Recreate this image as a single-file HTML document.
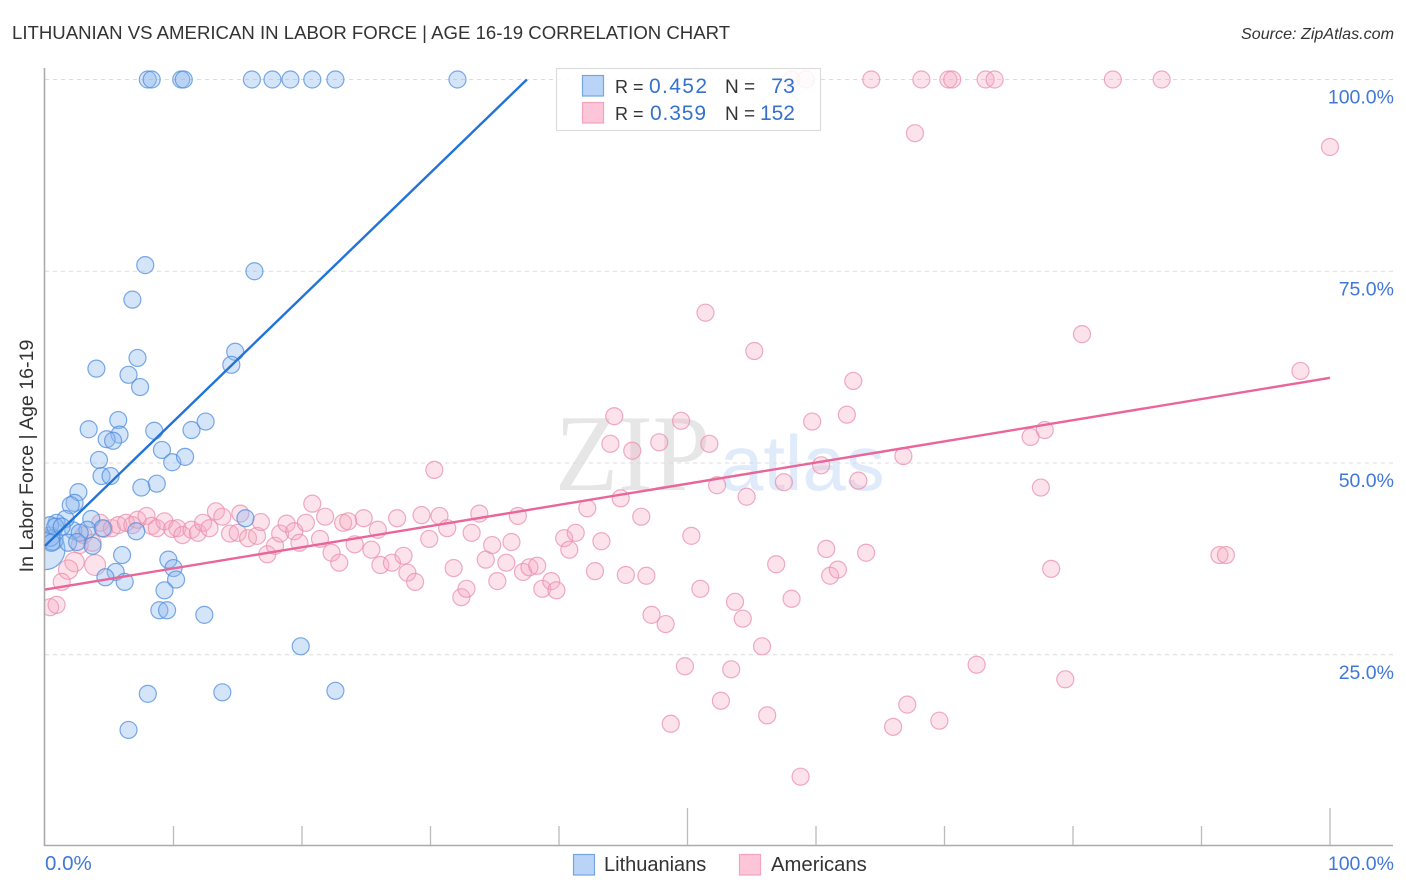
<!DOCTYPE html>
<html>
<head>
<meta charset="utf-8">
<title>Lithuanian vs American in Labor Force correlation chart</title>
<style>
html,body{margin:0;padding:0;background:#fff;width:1406px;height:892px;overflow:hidden}
svg{display:block;font-family:"Liberation Sans",sans-serif}
</style>
</head>
<body>
<svg id="chart" width="1406" height="892" viewBox="0 0 1406 892" xmlns="http://www.w3.org/2000/svg">
  <defs>
    <clipPath id="plot-clip"><rect x="45" y="60" width="1350" height="785"/></clipPath>
  </defs>
  <rect x="0" y="0" width="1406" height="892" fill="#ffffff"/>
  <text x="12" y="39" font-size="18.6" fill="#333333">LITHUANIAN VS AMERICAN IN LABOR FORCE | AGE 16-19 CORRELATION CHART</text>
  <text x="1394" y="39" text-anchor="end" font-size="16.1" font-style="italic" fill="#333333">Source: ZipAtlas.com</text>
  <g>
    <text x="555" y="490" font-family="'Liberation Serif',serif" font-size="109" textLength="155" lengthAdjust="spacingAndGlyphs" fill="#e6e6e6">ZIP</text>
    <text x="720" y="490" font-size="78" fill="#dfeafa">atlas</text>
  </g>
  <g id="grid"></g>
  <g id="axes"></g>
  <g id="points" clip-path="url(#plot-clip)"></g>
  <g id="trends"></g>
  <g>
    <rect x="556.5" y="68.5" width="264" height="62" fill="#ffffff" fill-opacity="0.86" stroke="#dcdcdc" stroke-width="1.2"/>
    <rect x="582.5" y="75.5" width="21" height="20.5" fill="#b9d4f7" stroke="#76a5e2" stroke-width="1.2"/>
    <rect x="582.5" y="102.5" width="21" height="20.5" fill="#fcc6d8" stroke="#f2a3bd" stroke-width="1.2"/>
    <text x="615" y="93" font-size="18" fill="#333">R =</text>
    <text x="649" y="93" font-size="21" textLength="58" fill="#3571cf">0.452</text>
    <text x="725" y="93" font-size="19" fill="#333">N =</text>
    <text x="795" y="93" text-anchor="end" font-size="21.5" fill="#3571cf">73</text>
    <text x="615" y="120" font-size="18" fill="#333">R =</text>
    <text x="650" y="120" font-size="21" textLength="56" fill="#3571cf">0.359</text>
    <text x="725" y="120" font-size="19" fill="#333">N =</text>
    <text x="795" y="120" text-anchor="end" font-size="21" fill="#3571cf">152</text>
  </g>
  <g>
    <rect x="573.5" y="854.5" width="21" height="20.5" fill="#b9d4f7" stroke="#76a5e2" stroke-width="1.2"/>
    <text x="604" y="871" font-size="20" fill="#333">Lithuanians</text>
    <rect x="739.5" y="854.5" width="21" height="20.5" fill="#fcc6d8" stroke="#f2a3bd" stroke-width="1.2"/>
    <text x="771" y="871" font-size="20.3" fill="#333">Americans</text>
  </g>
</svg>
<script>
const yTickValues = [25, 50, 75, 100];
const yTickLabels = ["25.0%", "50.0%", "75.0%", "100.0%"];
const xTickValues = [0, 10, 20, 30, 40, 50, 60, 70, 80, 90, 100];
const xEndValues = [0, 100];
const xEndLabels = ["0.0%", "100.0%"];

const lithuanianX = [0.0,0.6,0.4,2.2,0.5,8.0,8.3,10.6,10.8,16.1,17.7,19.1,20.8,22.6,32.1,7.8,16.3,6.8,7.2,14.8,14.5,4.0,6.5,7.4,3.4,5.7,5.8,4.8,5.3,8.5,11.4,12.5,9.1,9.9,10.9,4.2,4.4,5.1,8.7,7.5,2.6,2.3,2.0,15.6,3.6,1.6,0.9,0.4,0.8,1.3,3.3,2.7,4.5,7.1,1.8,2.5,3.7,6.0,9.6,10.0,5.5,10.2,4.7,6.2,9.3,8.9,9.5,12.4,19.9,8.0,13.8,22.6,6.5];
const lithuanianY = [38.7,40.0,40.4,41.2,39.6,100,100,100,100,100,100,100,100,100,100,75.8,75.0,71.3,63.7,64.5,62.8,62.3,61.5,59.9,54.4,55.6,53.7,53.1,52.9,54.2,54.3,55.4,51.7,50.1,50.8,50.4,48.3,48.3,47.3,46.8,46.2,44.8,44.5,42.8,42.7,42.7,42.2,41.9,41.7,41.7,41.3,40.9,41.5,41.1,39.6,39.7,39.2,38.0,37.4,36.3,35.8,34.8,35.1,34.5,33.4,30.8,30.8,30.2,26.1,19.9,20.1,20.3,15.2];
const lithuanianWeight = [5.5,1.5,1.3];

const americanX = [3.9,2.3,1.8,0.4,0.9,1.3,2.7,3.0,3.7,4.3,4.6,5.2,5.7,6.3,6.8,7.2,7.9,8.3,8.7,9.3,9.9,10.3,10.7,11.4,11.9,12.3,12.8,13.3,13.8,14.4,15.2,15.0,15.8,16.5,16.8,17.3,17.9,18.3,18.8,19.4,19.8,20.3,20.8,21.4,21.8,22.3,22.9,23.2,23.6,24.8,25.9,24.1,25.4,26.1,27.0,27.9,28.2,28.8,27.4,29.3,29.9,30.7,31.3,30.3,31.8,32.4,32.8,33.2,33.8,34.3,34.8,35.2,35.9,36.3,36.8,37.2,37.7,38.3,38.7,39.4,39.8,40.4,40.8,41.3,42.2,42.8,43.3,44.0,44.3,45.7,44.8,45.2,46.4,46.8,47.2,47.8,48.3,49.5,49.8,48.7,50.3,51.0,51.4,51.7,52.3,52.6,53.4,53.7,54.3,54.6,55.2,55.8,56.2,56.9,57.5,58.1,58.8,59.7,60.4,60.8,61.1,61.7,62.4,62.9,63.3,63.9,66.0,66.8,67.1,67.7,69.6,72.5,76.7,77.5,77.8,78.3,79.4,80.7,91.4,91.9,97.7,100,58.1,59.2,64.3,68.2,70.3,70.6,73.2,73.9,83.1,86.9];
const americanY = [36.7,37.1,36.1,31.2,31.5,34.5,39.3,40.6,39.6,42.2,41.4,41.5,41.9,42.2,41.9,42.6,43.1,41.8,41.5,42.4,41.4,41.5,40.6,41.3,40.9,42.2,41.5,43.7,43.0,40.8,43.4,40.9,40.2,40.5,42.3,38.1,39.2,40.8,42.1,41.1,39.6,42.2,44.7,40.1,43.0,38.3,37.0,42.2,42.4,42.8,41.3,39.4,38.7,36.7,37.0,37.9,35.7,34.5,42.8,43.2,40.1,43.1,41.5,49.1,36.3,32.5,33.6,40.9,43.4,37.4,39.3,34.6,37.0,39.7,43.1,35.8,36.4,36.6,33.6,34.6,33.4,40.2,38.7,40.9,44.1,35.9,39.8,52.5,56.1,51.6,45.4,35.4,43.0,35.3,30.2,52.7,29.0,55.5,23.5,16.0,40.5,33.6,69.6,52.5,47.1,19.0,23.1,31.9,29.7,45.6,64.6,26.1,17.1,36.8,47.5,32.3,9.1,55.4,49.7,38.8,35.3,36.1,56.3,60.7,47.7,38.3,15.6,50.9,18.5,93.0,16.4,23.7,53.4,46.8,54.3,36.2,21.8,66.8,38.0,38.0,62.0,91.2,100,100,100,100,100,100,100,100,100,100];
const americanWeight = [1.5,1.3,1.3];

const lithuanianTrendX = [0, 37.5];
const lithuanianTrendY = [39.2, 100];
const americanTrendX = [0, 100];
const americanTrendY = [33.5, 61.1];

const NS = "http://www.w3.org/2000/svg";
function xScale(v) { return 45 + v * 12.85; }
function yScale(v) { return 846.5 - v * 7.67; }
function make(tag, attrs, parent) {
  const el = document.createElementNS(NS, tag);
  for (const k in attrs) el.setAttribute(k, attrs[k]);
  parent.appendChild(el);
  return el;
}
const gridG = document.getElementById("grid");
const axesG = document.getElementById("axes");
const pointsG = document.getElementById("points");
const trendsG = document.getElementById("trends");

yTickValues.forEach(function (v, i) {
  const line = make("line", {x1: 45, x2: 1393, y1: yScale(v), y2: yScale(v), stroke: "#dcdcdc", "stroke-width": 1, "stroke-dasharray": "4 4"}, gridG);
  
  
  const label = make("text", {x: 1394, y: yScale(v) + 24, "text-anchor": "end", "font-size": 19.5, fill: "#3f78d6"}, axesG);
  
  
  label.textContent = yTickLabels[i];
});

const yAxis = make("line", {x1: 44.5, x2: 44.5, y1: 68, y2: 846, stroke: "#aaaaaa", "stroke-width": 1.6}, axesG);


const xAxis = make("line", {x1: 44, x2: 1393, y1: 845.5, y2: 845.5, stroke: "#aaaaaa", "stroke-width": 1.4}, axesG);



xTickValues.forEach(function (v) {
  if (v === 0) return;
  const top = (v === 50 || v === 100) ? 808 : 826;
  const tick = make("line", {x1: xScale(v), x2: xScale(v), y1: top, y2: 845, stroke: "#bbbbbb", "stroke-width": 1.3}, axesG);
  
  
});

xEndValues.forEach(function (v, i) {
  const label = make("text", {x: i === 0 ? xScale(v) : 1394, y: 870, "text-anchor": i === 0 ? "start" : "end", "font-size": i === 0 ? 20.5 : 19.5, fill: "#3f78d6"}, axesG);
  
  
  label.textContent = xEndLabels[i];
});

const yTitle = make("text", {x: 0, y: 0, transform: "translate(33,456) rotate(-90)", "text-anchor": "middle", "font-size": 19.6, fill: "#333333"}, axesG);


yTitle.textContent = "In Labor Force | Age 16-19";

americanX.forEach(function (x, i) {
  const w = americanWeight[i] || 1;
  const c = make("circle", {cx: xScale(x), cy: yScale(americanY[i]), r: 8.5 * Math.sqrt(w), fill: "#f7a8c2", "fill-opacity": 0.32, stroke: "#ea8fae", "stroke-opacity": 0.75, "stroke-width": 1.2}, pointsG);
  
  
});
lithuanianX.forEach(function (x, i) {
  const w = lithuanianWeight[i] || 1;
  const c = make("circle", {cx: xScale(x), cy: yScale(lithuanianY[i]), r: 8.5 * Math.sqrt(w), fill: "#8db9f0", "fill-opacity": 0.38, stroke: "#4f8ddc", "stroke-opacity": 0.75, "stroke-width": 1.2}, pointsG);
  
  
});

const blueTrend = make("line", {x1: xScale(lithuanianTrendX[0]), y1: yScale(lithuanianTrendY[0]), x2: xScale(lithuanianTrendX[1]), y2: yScale(lithuanianTrendY[1]), stroke: "#2173d9", "stroke-width": 2.4}, trendsG);


const pinkTrend = make("line", {x1: xScale(americanTrendX[0]), y1: yScale(americanTrendY[0]), x2: xScale(americanTrendX[1]), y2: yScale(americanTrendY[1]), stroke: "#e9659a", "stroke-width": 2.4}, trendsG);


</script>
</body>
</html>
